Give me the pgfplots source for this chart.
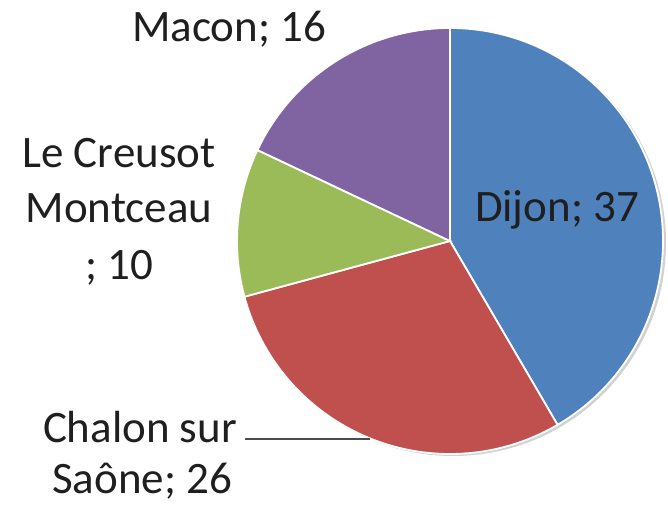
\documentclass[border=0pt]{standalone}
\usepackage{pgfplots}
\pgfplotsset{compat=1.18}
\usepackage{pgfplotstable}
\usepackage{fontspec}
\setmainfont{Carlito}

\definecolor{cDijon}{HTML}{4F81BD}
\definecolor{cChalon}{HTML}{C0504D}
\definecolor{cCreusot}{HTML}{9BBB59}
\definecolor{cMacon}{HTML}{8064A2}

% slice values, clockwise from 12 o'clock
\pgfplotstableread{
name value
Dijon 37
Chalon 26
Creusot 10
Macon 16
}\piedata

\begin{document}
\begin{tikzpicture}
\pgfplotstablegetelem{0}{value}\of\piedata \let\vA\pgfplotsretval
\pgfplotstablegetelem{1}{value}\of\piedata \let\vB\pgfplotsretval
\pgfplotstablegetelem{2}{value}\of\piedata \let\vC\pgfplotsretval
\pgfplotstablegetelem{3}{value}\of\piedata \let\vD\pgfplotsretval
\pgfmathsetmacro\tot{\vA+\vB+\vC+\vD}
\pgfmathsetmacro\aA{90-360*\vA/\tot}
\pgfmathsetmacro\aB{\aA-360*\vB/\tot}
\pgfmathsetmacro\aC{\aB-360*\vC/\tot}
\pgfmathsetmacro\aD{\aC-360*\vD/\tot}
\def\R{106.5pt}
\begin{axis}[
  scale only axis,
  width=334pt, height=254pt,
  xmin=0, xmax=668, ymin=0, ymax=508,
  hide axis, clip=false,
  nodes={font=\fontsize{22.5}{27}\selectfont, text=black!88},
]
  % keep the full canvas as bounding box
  \path (axis cs:0,0) rectangle (axis cs:668,508);
  % soft shadow on the right
  \fill[black!18] (axis cs:453,265) circle[radius=\R];
  \fill[cDijon, draw=white, line width=0.9pt] (axis cs:450,267) -- ++(90:\R) arc[start angle=90, end angle=\aA, radius=\R] -- cycle;
  \fill[cChalon, draw=white, line width=0.9pt] (axis cs:450,267) -- ++(\aA:\R) arc[start angle=\aA, end angle=\aB, radius=\R] -- cycle;
  \fill[cCreusot, draw=white, line width=0.9pt] (axis cs:450,267) -- ++(\aB:\R) arc[start angle=\aB, end angle=\aC, radius=\R] -- cycle;
  \fill[cMacon, draw=white, line width=0.9pt] (axis cs:450,267) -- ++(\aC:\R) arc[start angle=\aC, end angle=\aD, radius=\R] -- cycle;

  % labels
  \node[anchor=base] at (axis cs:557,286) {Dijon; 37};
  \node[anchor=base] at (axis cs:229,466) {Macon; 16};
  \node[anchor=base] at (axis cs:119,340) {Le Creusot};
  \node[anchor=base] at (axis cs:119,285) {Montceau};
  \node[anchor=base] at (axis cs:119,228) {; 10};
  \node[anchor=base] at (axis cs:140,66) {Chalon sur};
  \node[anchor=base] at (axis cs:142,15) {Saône; 26};
  \draw[black!70, line width=0.6pt] (axis cs:245,69) -- (axis cs:370,69);
\end{axis}
\end{tikzpicture}
\end{document}
